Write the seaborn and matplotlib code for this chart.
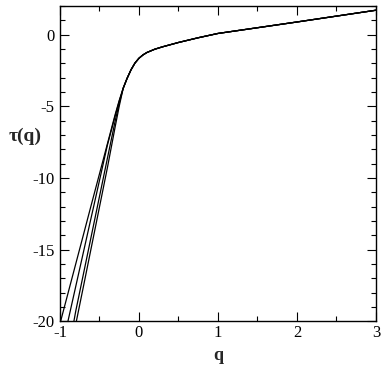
import numpy as np
import pandas as pd
import matplotlib
matplotlib.use("Agg")
import matplotlib.pyplot as plt
import seaborn as sns
from matplotlib.ticker import MultipleLocator

# left (negative q) branch, one tau series per curve
q_left = [-1.0, -0.9, -0.8, -0.7, -0.6, -0.5, -0.4, -0.3, -0.25]
tau_a = [-20.17, -18.08, -15.99, -13.90, -11.80, -9.72, -7.63, -5.55, -4.60]
tau_b = [-22.50, -20.02, -17.56, -15.10, -12.64, -10.18, -7.72, -5.65, -4.65]
tau_c = [-25.00, -22.30, -19.28, -16.62, -13.96, -11.30, -8.64, -6.00, -4.80]
tau_d = [-26.00, -23.00, -20.20, -17.49, -14.76, -12.03, -9.30, -6.40, -5.00]

# shared part of the curves (bend and right branch)
q_shared = [-0.2, -0.15, -0.1, -0.05, 0.0, 0.05, 0.1, 0.2, 0.3, 0.4, 0.5,
            0.75, 1.0, 1.5, 2.0, 2.5, 3.0]
tau_shared = [-3.75, -3.05, -2.45, -1.98, -1.65, -1.42, -1.25, -1.02, -0.85,
              -0.70, -0.55, -0.22, 0.08, 0.48, 0.88, 1.29, 1.70]

curves = {"a": tau_a, "b": tau_b, "c": tau_c, "d": tau_d}

rows = []
for name, tau_left in curves.items():
    for q, t in zip(q_left + q_shared, tau_left + tau_shared):
        rows.append({"curve": name, "q": q, "tau": t})
df = pd.DataFrame(rows)

sns.set_theme(style="ticks")
plt.rcParams["font.family"] = ["Liberation Serif", "DejaVu Serif"]
plt.rcParams["axes.unicode_minus"] = False

fig = plt.figure(figsize=(3.82, 3.71), dpi=100)
ax = fig.add_axes([0.157, 0.134, 0.827, 0.850])
sns.lineplot(data=df, x="q", y="tau", hue="curve", sort=False,
             palette=["black"] * 4, linewidth=0.9, legend=False, ax=ax)

ax.set_xlim(-1, 3)
ax.set_ylim(-20, 2)
ax.xaxis.set_major_locator(MultipleLocator(1))
ax.xaxis.set_minor_locator(MultipleLocator(0.5))
ax.yaxis.set_major_locator(MultipleLocator(5))
ax.yaxis.set_minor_locator(MultipleLocator(1))
ax.tick_params(which="both", direction="in", top=True, right=True,
               labelsize=12, colors="black")
ax.tick_params(axis="x", pad=3)
ax.tick_params(axis="y", pad=4)
ax.tick_params(which="major", length=6.5, width=0.8)
ax.tick_params(which="minor", length=3.4, width=0.8)
for s in ax.spines.values():
    s.set_linewidth(1.0)
    s.set_color("black")

ax.set_xlabel("q", fontsize=13, fontweight="bold")
ax.xaxis.set_label_coords(0.5, -0.08)
ax.set_ylabel("τ(q)", fontsize=14, fontweight="bold", rotation=0)
ax.yaxis.set_label_coords(-0.11, 0.56)

fig.savefig("out.png", dpi=100)
